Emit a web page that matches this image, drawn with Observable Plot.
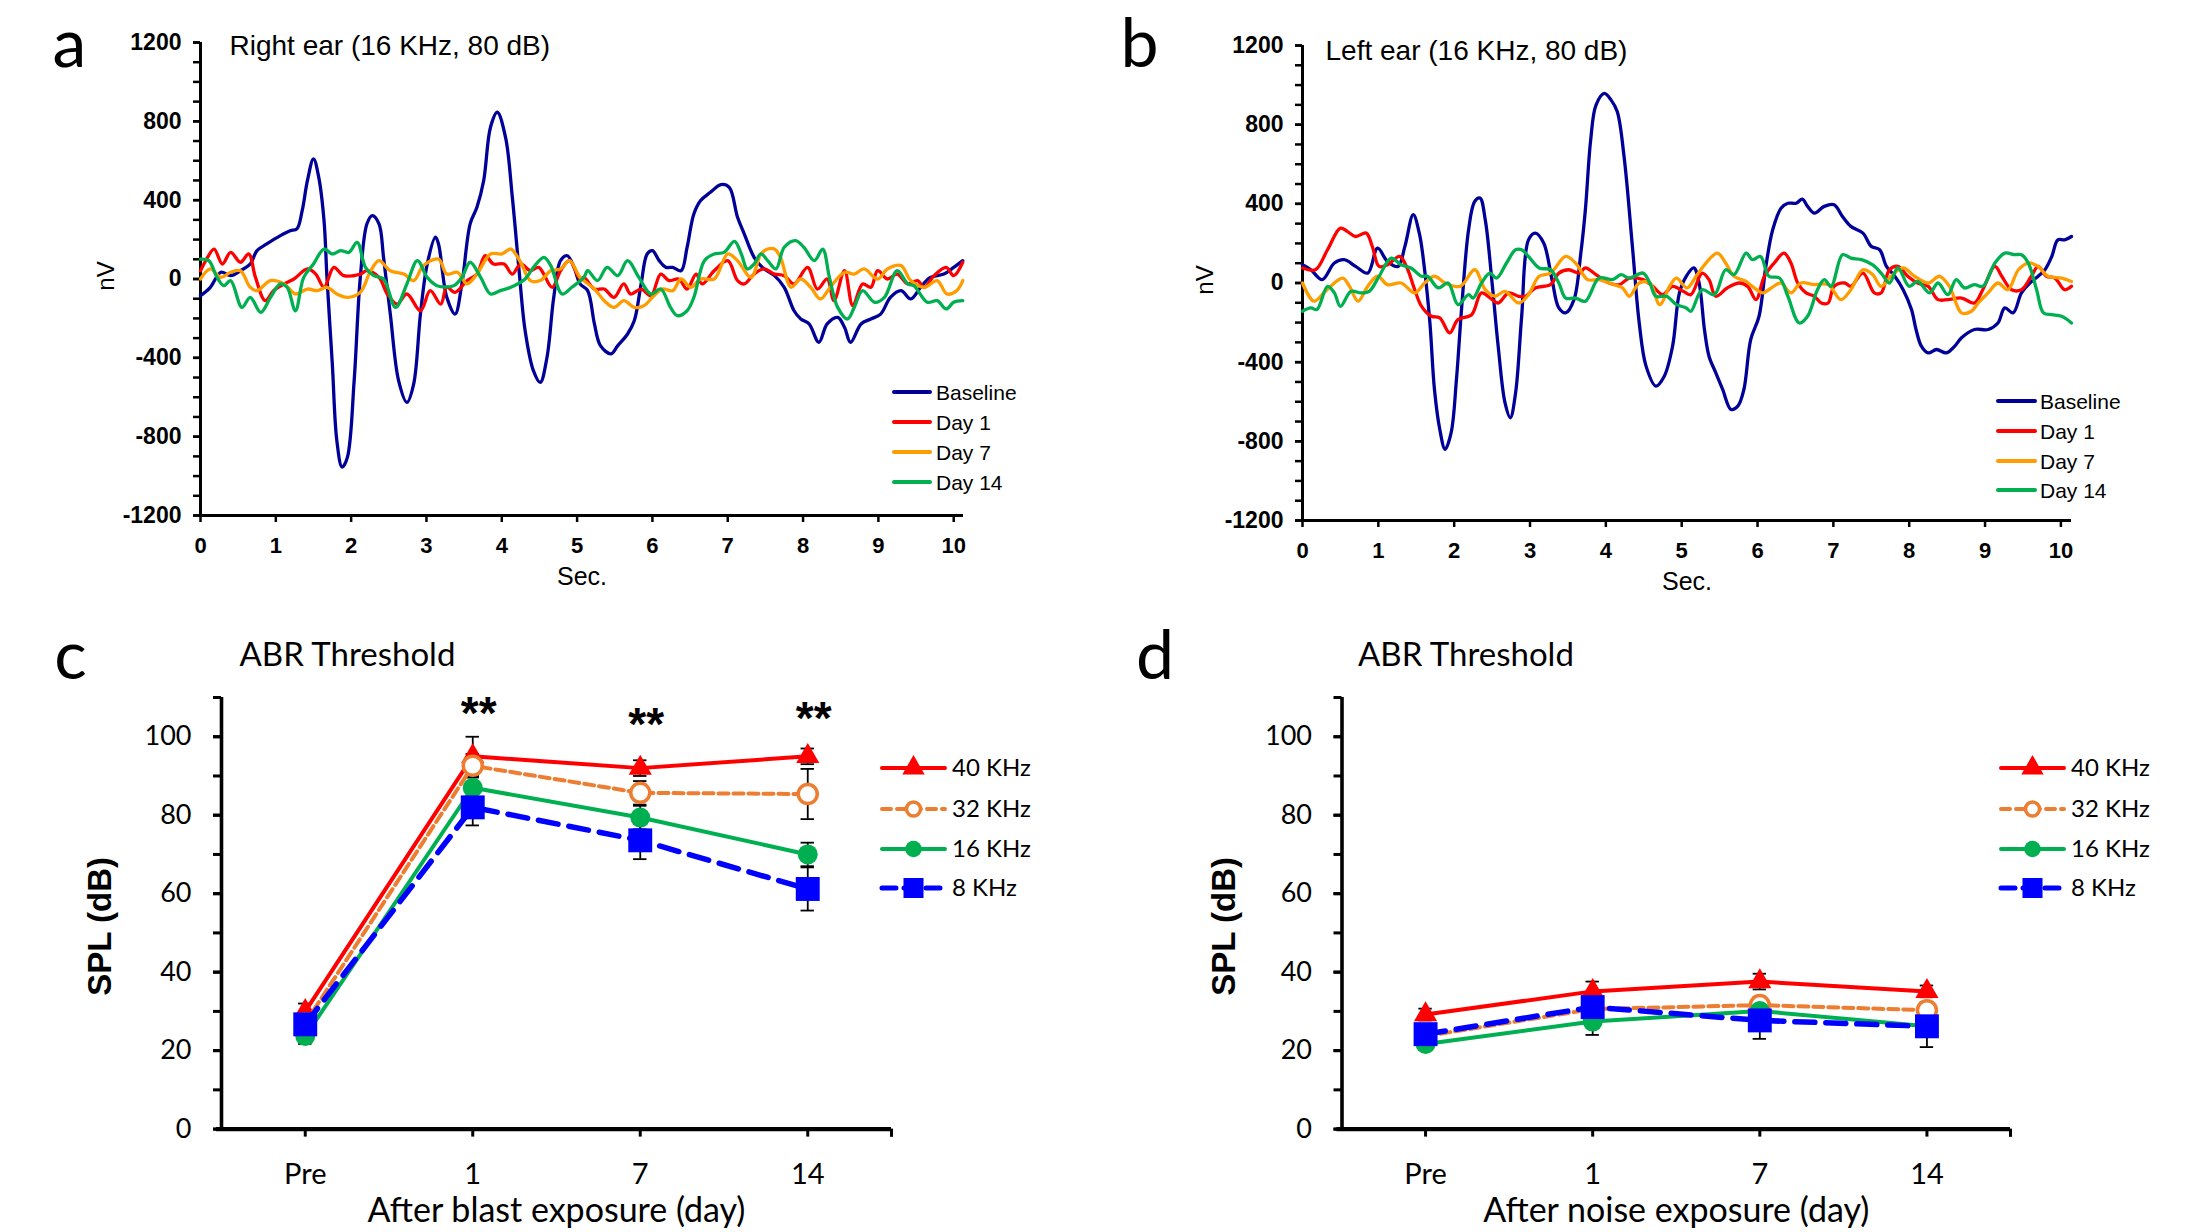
<!DOCTYPE html>
<html>
<head>
<meta charset="utf-8">
<script src="https://cdn.jsdelivr.net/npm/d3@7"></script>
<script src="https://cdn.jsdelivr.net/npm/@observablehq/plot@0.6"></script>
<style>
html, body { margin: 0; padding: 0; background: #fff; }
#root { position: relative; width: 2191px; height: 1232px; overflow: hidden; background: #fff; }
#root > svg, #root > figure { position: absolute; margin: 0; }
</style>
</head>
<body>
<div id="root"></div>
<script>
// ---------------- DATA ----------------
const waveSeries = ["Baseline", "Day 1", "Day 7", "Day 14"];

// Right ear (16 KHz, 80 dB): [sec, nV]
const rightBaseline = [[0,-85],[0.13,-42],[0.27,34],[0.4,17],[0.53,42],[0.66,76],[0.75,144],[0.88,178],[1.06,220],[1.19,245],[1.28,254],[1.35,347],[1.42,500],[1.5,610],[1.57,516],[1.64,296],[1.68,0],[1.75,-431],[1.81,-820],[1.88,-955],[1.95,-905],[2.04,-516],[2.12,0],[2.21,280],[2.28,322],[2.37,280],[2.43,110],[2.52,-178],[2.63,-516],[2.74,-626],[2.83,-533],[2.92,-178],[3.01,76],[3.12,212],[3.16,178],[3.27,-93],[3.38,-178],[3.47,-25],[3.58,280],[3.67,364],[3.76,500],[3.85,770],[3.94,846],[4.05,719],[4.14,415],[4.23,42],[4.31,-262],[4.42,-465],[4.51,-525],[4.6,-398],[4.69,-93],[4.78,93],[4.87,118],[4.96,59],[5.04,-25],[5.14,-59],[5.23,-228],[5.31,-338],[5.45,-380],[5.54,-338],[5.67,-279],[5.76,-211],[5.85,-25],[5.93,127],[6.0,144],[6.09,93],[6.18,59],[6.27,59],[6.38,42],[6.46,160],[6.55,330],[6.64,398],[6.77,440],[6.91,479],[7.02,465],[7.13,313],[7.22,228],[7.35,110],[7.46,59],[7.62,17],[7.75,-42],[7.88,-161],[7.97,-203],[8.08,-228],[8.21,-321],[8.32,-228],[8.46,-195],[8.55,-245],[8.63,-321],[8.77,-228],[8.9,-203],[9.03,-178],[9.16,-93],[9.3,-59],[9.43,-101],[9.56,-42],[9.69,8],[9.87,25],[10.0,59],[10.12,93]];
const rightDay1 = [[0,42],[0.07,93],[0.18,152],[0.29,76],[0.4,135],[0.53,85],[0.64,127],[0.73,8],[0.86,-110],[0.97,-59],[1.11,-25],[1.24,0],[1.42,51],[1.53,25],[1.64,-42],[1.77,59],[1.9,17],[2.12,25],[2.21,42],[2.37,8],[2.48,-76],[2.61,-127],[2.74,-76],[2.92,-161],[3.05,-59],[3.19,-127],[3.27,-42],[3.38,-68],[3.54,-8],[3.67,25],[3.78,118],[3.89,76],[4.03,76],[4.14,25],[4.25,76],[4.38,42],[4.49,59],[4.67,-42],[4.78,42],[4.9,93],[5.04,0],[5.09,8],[5.23,-51],[5.36,-51],[5.49,-93],[5.62,-25],[5.71,-76],[5.85,-51],[5.98,-85],[6.11,25],[6.22,-8],[6.35,0],[6.46,-51],[6.58,25],[6.66,-25],[6.82,42],[7.0,93],[7.13,-8],[7.22,-25],[7.35,25],[7.48,51],[7.62,25],[7.75,17],[7.88,-25],[8.06,59],[8.19,-51],[8.32,0],[8.41,-110],[8.55,42],[8.66,-135],[8.79,-25],[8.9,-42],[8.99,42],[9.12,0],[9.25,25],[9.39,-25],[9.52,-8],[9.61,-42],[9.74,17],[9.9,59],[10.0,17],[10.12,85]];
const rightDay7 = [[0,0],[0.13,51],[0.27,8],[0.4,34],[0.53,42],[0.66,-42],[0.75,-59],[0.93,-8],[1.11,-25],[1.26,-76],[1.42,-51],[1.55,-59],[1.68,-42],[1.81,-76],[1.95,-93],[2.12,-68],[2.26,42],[2.37,93],[2.52,42],[2.7,25],[2.83,-8],[2.96,68],[3.16,101],[3.27,25],[3.41,34],[3.54,-25],[3.67,25],[3.85,127],[4.0,127],[4.12,152],[4.25,85],[4.38,-8],[4.51,-8],[4.65,42],[4.78,51],[4.9,93],[5.04,8],[5.23,-51],[5.36,-110],[5.49,-144],[5.62,-110],[5.76,-144],[5.89,-135],[6.0,-93],[6.13,-51],[6.27,-59],[6.38,0],[6.51,-42],[6.64,0],[6.82,0],[7.0,127],[7.13,93],[7.31,8],[7.44,127],[7.53,152],[7.62,152],[7.7,110],[7.84,-42],[7.97,0],[8.1,-42],[8.23,-101],[8.36,-42],[8.55,34],[8.68,25],[8.81,51],[8.99,0],[9.12,51],[9.3,68],[9.43,-8],[9.61,-42],[9.78,-8],[9.91,-76],[10.04,-59],[10.12,-8]];
const rightDay14 = [[0,101],[0.11,93],[0.22,8],[0.31,-34],[0.4,-8],[0.55,-144],[0.66,-93],[0.8,-169],[0.93,-93],[1.06,-25],[1.15,-42],[1.26,-161],[1.37,8],[1.5,76],[1.64,152],[1.75,127],[1.86,144],[1.97,135],[2.08,186],[2.19,59],[2.3,17],[2.43,0],[2.59,-144],[2.74,-25],[2.88,93],[3.01,8],[3.14,-34],[3.36,-34],[3.47,8],[3.58,85],[3.72,8],[3.85,-76],[3.98,-59],[4.12,-42],[4.31,0],[4.42,59],[4.56,110],[4.65,68],[4.8,-76],[4.93,-42],[5.09,8],[5.14,42],[5.27,-8],[5.4,59],[5.54,17],[5.67,93],[5.82,8],[5.98,-76],[6.11,-51],[6.24,-144],[6.33,-186],[6.46,-161],[6.55,-93],[6.69,93],[6.82,127],[6.95,135],[7.09,191],[7.18,127],[7.26,51],[7.35,76],[7.44,127],[7.53,93],[7.64,51],[7.75,161],[7.9,195],[8.01,161],[8.15,93],[8.26,152],[8.35,8],[8.46,-144],[8.59,-203],[8.68,-144],[8.79,-59],[8.95,-118],[9.08,-93],[9.25,42],[9.39,-25],[9.47,-34],[9.65,-118],[9.78,-110],[9.9,-152],[10.0,-118],[10.12,-110]];

// Left ear (16 KHz, 80 dB): [sec, nV]
const leftBaseline = [[0,92],[0.11,67],[0.26,17],[0.42,101],[0.55,118],[0.7,84],[0.86,50],[0.99,176],[1.12,109],[1.26,84],[1.35,185],[1.46,345],[1.54,252],[1.61,67],[1.68,-202],[1.74,-538],[1.81,-739],[1.88,-840],[1.96,-756],[2.03,-487],[2.1,-118],[2.19,269],[2.27,412],[2.34,429],[2.41,319],[2.5,0],[2.58,-319],[2.67,-605],[2.74,-681],[2.81,-555],[2.89,-168],[2.98,218],[3.07,252],[3.18,202],[3.29,17],[3.38,-126],[3.47,-151],[3.58,-84],[3.67,151],[3.73,370],[3.8,723],[3.87,899],[3.98,958],[4.07,924],[4.15,866],[4.24,639],[4.35,185],[4.44,-202],[4.53,-420],[4.66,-521],[4.77,-471],[4.88,-319],[4.97,-50],[5.06,34],[5.16,76],[5.23,0],[5.3,-235],[5.36,-370],[5.45,-454],[5.54,-538],[5.65,-639],[5.74,-622],[5.82,-538],[5.91,-286],[6.02,-168],[6.11,84],[6.2,269],[6.31,378],[6.4,403],[6.51,403],[6.59,424],[6.66,387],[6.75,353],[6.88,387],[7.01,395],[7.12,336],[7.23,286],[7.39,252],[7.5,185],[7.61,168],[7.7,84],[7.81,34],[7.92,-34],[8.03,-134],[8.09,-235],[8.16,-319],[8.25,-353],[8.36,-336],[8.49,-353],[8.6,-319],[8.69,-277],[8.86,-235],[9.04,-235],[9.17,-202],[9.26,-126],[9.37,-151],[9.48,-50],[9.59,0],[9.7,34],[9.79,67],[9.88,134],[9.96,218],[10.05,218],[10.14,235]];
const leftDay1 = [[0,76],[0.17,67],[0.33,168],[0.5,277],[0.59,261],[0.7,235],[0.84,252],[0.92,185],[1.01,84],[1.12,92],[1.28,134],[1.37,84],[1.48,-34],[1.57,-118],[1.7,-168],[1.81,-176],[1.94,-252],[2.05,-185],[2.23,-160],[2.36,-50],[2.5,-84],[2.58,-101],[2.72,-50],[2.85,-67],[2.94,-67],[3.07,-25],[3.27,-8],[3.38,50],[3.51,67],[3.65,50],[3.73,76],[3.87,42],[4.04,0],[4.18,-8],[4.31,25],[4.49,17],[4.62,-17],[4.75,-59],[4.88,-17],[5.02,-42],[5.12,-59],[5.27,50],[5.36,17],[5.45,-67],[5.6,-25],[5.76,0],[5.87,-17],[5.98,-84],[6.09,34],[6.22,101],[6.35,151],[6.44,101],[6.53,0],[6.64,-50],[6.75,-67],[6.84,-101],[6.93,-101],[7.01,-17],[7.15,0],[7.23,-17],[7.39,50],[7.54,-50],[7.63,-50],[7.74,67],[7.85,84],[7.98,34],[8.11,0],[8.25,-17],[8.38,-84],[8.51,-84],[8.69,-76],[8.86,-101],[8.97,-34],[9.13,84],[9.22,34],[9.35,-34],[9.48,-34],[9.61,34],[9.7,84],[9.81,34],[9.92,25],[10.05,-34],[10.14,-17]];
const leftDay7 = [[0,0],[0.15,-92],[0.28,-50],[0.37,-17],[0.53,25],[0.62,-17],[0.73,-92],[0.86,-17],[0.99,34],[1.12,-8],[1.3,0],[1.48,-50],[1.61,0],[1.74,34],[1.88,0],[2.08,-17],[2.27,67],[2.41,-34],[2.54,-67],[2.67,-42],[2.85,-101],[2.98,-59],[3.12,34],[3.27,50],[3.47,134],[3.6,101],[3.76,17],[3.91,17],[4.04,0],[4.22,-25],[4.31,-67],[4.44,0],[4.58,0],[4.71,-109],[4.84,-17],[4.93,25],[5.07,-25],[5.19,34],[5.32,101],[5.47,151],[5.58,101],[5.69,34],[5.85,8],[5.93,-17],[6.07,-50],[6.18,-25],[6.31,0],[6.44,-50],[6.57,0],[6.75,-8],[6.93,-8],[7.1,-84],[7.23,-34],[7.39,67],[7.52,42],[7.63,-17],[7.76,34],[7.92,76],[8.07,34],[8.25,0],[8.4,34],[8.53,-17],[8.69,-151],[8.82,-143],[8.91,-101],[9.04,-50],[9.17,0],[9.3,-34],[9.44,67],[9.57,101],[9.7,84],[9.83,34],[10.01,25],[10.14,8]];
const leftDay14 = [[0,-143],[0.11,-126],[0.19,-134],[0.33,-17],[0.42,-50],[0.5,-118],[0.64,-42],[0.77,-50],[0.88,-42],[1.01,34],[1.17,126],[1.3,92],[1.43,76],[1.57,34],[1.65,34],[1.79,-25],[1.92,0],[2.05,-109],[2.19,-59],[2.25,-76],[2.36,0],[2.47,50],[2.56,25],[2.69,101],[2.81,168],[2.89,168],[2.98,134],[3.12,76],[3.27,67],[3.38,0],[3.47,-76],[3.6,-76],[3.73,-92],[3.91,25],[4.09,17],[4.2,42],[4.31,25],[4.49,50],[4.58,0],[4.66,-67],[4.8,-67],[4.93,-109],[5.06,-126],[5.12,-143],[5.27,-34],[5.43,-59],[5.58,67],[5.69,42],[5.85,151],[5.93,118],[6.04,134],[6.15,34],[6.29,25],[6.4,-67],[6.55,-202],[6.66,-168],[6.79,-34],[6.88,17],[6.97,-17],[7.12,143],[7.23,126],[7.37,118],[7.52,92],[7.63,50],[7.74,0],[7.85,76],[8.0,-17],[8.11,8],[8.27,-50],[8.38,0],[8.51,-59],[8.62,17],[8.73,-25],[8.86,-8],[8.97,-17],[9.13,101],[9.26,151],[9.39,143],[9.48,143],[9.57,101],[9.68,-34],[9.77,-151],[9.88,-160],[10.01,-168],[10.14,-202]];

const waveYTicks = [-1200, -800, -400, 0, 400, 800, 1200];
const secTicks = [0,1,2,3,4,5,6,7,8,9,10];

// ABR threshold (SPL dB) by day
const days = ["Pre", "1", "7", "14"];
const freqs = ["40 KHz", "32 KHz", "16 KHz", "8 KHz"];
const blast40 = [30, 95, 92, 95];
const blast32 = [27, 92.6, 85.7, 85.4];
const blast16 = [23.7, 87, 79.4, 70];
const blast8  = [26.7, 82, 73.6, 61.2];
const blast40Err = [2, 5, 2, 2];
const blast32Err = [2, 3, 3, 6.4];
const blast16Err = [2, 3, 3, 3];
const blast8Err  = [2, 4.6, 4.8, 5.5];
const noise40 = [29.2, 35.1, 37.6, 35.1];
const noise32 = [23.7, 30.6, 31.6, 30.3];
const noise16 = [21.7, 27.4, 30.1, 26.2];
const noise8  = [24.2, 31.1, 27.7, 26.2];
const noise40Err = [1.5, 2.5, 2, 1.5];
const noise32Err = [1.5, 2, 2, 2];
const noise16Err = [1.5, 3.4, 2, 2];
const noise8Err  = [1.5, 3, 4.7, 5.3];
const starDays = ["1", "7", "14"];
const starY = [108.7, 105.9, 107.5];
const starLabels = ["**", "**", "**"];
const splTicks = [0, 20, 40, 60, 80, 100];

// ---------------- STYLES ----------------
const root = document.getElementById("root");
const ARIAL = "'Liberation Sans', Arial, sans-serif";
const CAL = "Lato, 'Open Sans', sans-serif";
const waveColors = ["#000099", "#ff0000", "#ff9c00", "#00b050"];
const freqStyle = [
  {color: "#ff0000", dash: null, width: 4, symbol: "triangle", r: 8.6, fill: "#ff0000", stroke: "none", sw: 0},
  {color: "#ed7d31", dash: "10,5", width: 4, symbol: "circle", r: 9.5, fill: "white", stroke: "#ed7d31", sw: 3.5},
  {color: "#00b050", dash: null, width: 4, symbol: "circle", r: 10, fill: "#00b050", stroke: "none", sw: 0},
  {color: "#0000ff", dash: "20,11", width: 5.5, symbol: "square", r: 13.5, fill: "#0000ff", stroke: "none", sw: 0}
];

function place(node, left, top) {
  node.style.position = "absolute";
  node.style.left = left + "px";
  node.style.top = top + "px";
  root.appendChild(node);
}

// ---------------- WAVEFORM PANELS ----------------
function wavePanel(o) {
  const rows = [];
  o.series.forEach((pts, k) => pts.forEach(([t, v]) => rows.push({t, v, s: waveSeries[k]})));
  const chart = Plot.plot({
    width: o.width, height: o.height,
    marginLeft: o.mL, marginRight: o.mR, marginTop: o.mT, marginBottom: o.mB,
    style: {fontFamily: ARIAL, background: "transparent", overflow: "visible", color: "black"},
    x: {domain: [0, o.xMax], axis: null},
    y: {domain: [-1200, 1200], axis: null},
    color: {domain: waveSeries, range: waveColors},
    marks: [
      Plot.axisY({ticks: d3.range(-1200, 1201, 100), tickSize: 7, tickFormat: () => "", strokeWidth: 2.5, label: null}),
      Plot.axisY({ticks: waveYTicks, tickSize: 7, tickPadding: 12, tickFormat: d => String(d), fontSize: 23, fontWeight: "bold", strokeWidth: 2.5, label: null}),
      Plot.axisX({ticks: secTicks, tickSize: 7, tickPadding: 15, tickFormat: d => String(d), fontSize: 22, fontWeight: "bold", strokeWidth: 2.5, label: null}),
      Plot.ruleX([0], {stroke: "black", strokeWidth: 3}),
      Plot.ruleY([-1200], {stroke: "black", strokeWidth: 3}),
      Plot.line(rows, {x: "t", y: "v", z: "s", stroke: "s", strokeWidth: 3.3, curve: "catmull-rom"}),
      Plot.text([o.title], {frameAnchor: "top-left", dx: o.titleDx, dy: o.titleDy, textAnchor: "start", lineAnchor: "middle", fontSize: 28, fontFamily: ARIAL}),
      Plot.text([o.letter], {frameAnchor: "top-left", dx: o.letterDx, dy: o.letterDy, textAnchor: "middle", lineAnchor: "middle", fontSize: 68, fontFamily: CAL}),
      Plot.text(["nV"], {frameAnchor: "left", dx: o.nvDx, dy: -3, rotate: -90, textAnchor: "middle", lineAnchor: "middle", fontSize: 24, fontFamily: ARIAL}),
      Plot.text(["Sec."], {frameAnchor: "bottom", dy: 61, textAnchor: "middle", lineAnchor: "middle", fontSize: 25, fontFamily: ARIAL})
    ]
  });
  place(chart, o.left, o.top);
  // legend
  waveSeries.forEach((name, k) => {
    const bar = document.createElement("div");
    bar.style.cssText = `width:${o.lgX1 - o.lgX0}px;height:4px;border-radius:2px;background:${waveColors[k]}`;
    place(bar, o.lgX0, o.lgY[k] - 2);
    const t = document.createElement("div");
    t.textContent = name;
    t.style.cssText = `font:21px ${ARIAL};line-height:1;color:#000;white-space:nowrap;transform:translateY(-50%)`;
    place(t, o.lgTx, o.lgY[k]);
  });
}

wavePanel({
  left: 0, top: 0, width: 1000, height: 600, mL: 200, mR: 37, mT: 42, mB: 85, xMax: 10.13,
  series: [rightBaseline, rightDay1, rightDay7, rightDay14],
  title: "Right ear (16 KHz, 80 dB)", titleDx: 29, titleDy: 3.5,
  letter: "a", letterDx: -131, letterDy: 2.5, nvDx: -94,
  lgX0: 892, lgX1: 932, lgTx: 936, lgY: [392, 422, 452, 482]
});
wavePanel({
  left: 1100, top: 0, width: 1091, height: 600, mL: 202, mR: 120, mT: 45, mB: 80, xMax: 10.14,
  series: [leftBaseline, leftDay1, leftDay7, leftDay14],
  title: "Left ear (16 KHz, 80 dB)", titleDx: 23, titleDy: 6,
  letter: "b", letterDx: -163, letterDy: -0.5, nvDx: -97,
  lgX0: 1996, lgX1: 2037, lgTx: 2040, lgY: [401, 431, 461, 490]
});

// ---------------- ABR THRESHOLD PANELS ----------------
function abrPanel(o) {
  const marks = [
    Plot.axisY({ticks: d3.range(0, 111, 10), tickSize: 8, tickFormat: () => "", strokeWidth: 3, label: null}),
    Plot.axisY({ticks: splTicks, tickSize: 8, tickPadding: 22, tickFormat: d => String(d), fontSize: 27, fontFamily: CAL, strokeWidth: 3, label: null}),
    Plot.axisX({ticks: [0, 1, 2, 3], tickFormat: i => days[i], tickSize: 8, tickPadding: 26, fontSize: 29, fontFamily: CAL, strokeWidth: 3, label: null}),
    Plot.ruleX([3.5], {y1: 0, y2: -2.1, stroke: "black", strokeWidth: 3}),
    Plot.ruleX([-0.5], {y1: 0, y2: 110, stroke: "black", strokeWidth: 3.6}),
    Plot.ruleY([0], {x1: -0.53, x2: 3.5, stroke: "black", strokeWidth: 4.2})
  ];
  const allRows = o.values.map((vals, k) => vals.map((v, i) => ({i, v, e: o.errs[k][i]})));
  // error bars (behind)
  allRows.forEach(rows => {
    marks.push(
      Plot.ruleX(rows, {x: "i", y1: d => d.v - d.e, y2: d => d.v + d.e, stroke: "black", strokeWidth: 1.8}),
      Plot.ruleY(rows, {y: d => d.v + d.e, x1: d => d.i - 0.04, x2: d => d.i + 0.04, stroke: "black", strokeWidth: 1.8}),
      Plot.ruleY(rows, {y: d => d.v - d.e, x1: d => d.i - 0.04, x2: d => d.i + 0.04, stroke: "black", strokeWidth: 1.8})
    );
  });
  allRows.forEach((rows, k) => {
    const st = freqStyle[k];
    marks.push(
      Plot.line(rows, {x: "i", y: "v", stroke: st.color, strokeWidth: st.width, strokeDasharray: st.dash}),
      Plot.dot(rows, {x: "i", y: "v", symbol: st.symbol, r: st.r, fill: st.fill, stroke: st.stroke, strokeWidth: st.sw})
    );
  });
  if (o.stars) {
    const starRows = starDays.map((d, j) => ({i: days.indexOf(d), v: starY[j], s: starLabels[j]}));
    marks.push(Plot.text(starRows, {x: "i", y: "v", text: "s", dx: 6, dy: 12, lineAnchor: "middle", fontSize: 46, fontWeight: "bold", fontFamily: ARIAL}));
  }
  marks.push(
    Plot.text([o.letter], {frameAnchor: "top-left", dx: o.letterDx, dy: -40, textAnchor: "middle", lineAnchor: "middle", fontSize: 68, fontFamily: CAL}),
    Plot.text(["ABR Threshold"], {frameAnchor: "top-left", dx: o.titleDx, dy: -42.5, textAnchor: "start", lineAnchor: "middle", fontSize: 33, fontFamily: CAL}),
    Plot.text(["SPL (dB)"], {frameAnchor: "left", dx: o.splDx, dy: 13, rotate: -90, textAnchor: "middle", lineAnchor: "middle", fontSize: 33, fontWeight: "bold", fontFamily: ARIAL}),
    Plot.text([o.xlabel], {frameAnchor: "bottom", dy: 82, textAnchor: "middle", lineAnchor: "middle", fontSize: 34, fontFamily: CAL})
  );
  const chart = Plot.plot({
    width: o.width, height: 632,
    marginLeft: o.mL, marginRight: o.mR, marginTop: 97, marginBottom: 103.4,
    style: {fontFamily: CAL, background: "transparent", overflow: "visible", color: "black"},
    x: {domain: [-0.5, 3.5], axis: null},
    y: {domain: [0, 110], axis: null},
    marks
  });
  place(chart, o.left, 600);

  // legend
  const svg = d3.create("svg").attr("width", 260).attr("height", 170).style("overflow", "visible");
  freqs.forEach((name, k) => {
    const st = freqStyle[k];
    const y = o.lgY[k] - o.lgTop;
    svg.append("line").attr("x1", 0).attr("x2", o.lgX1 - o.lgX0).attr("y1", y).attr("y2", y)
      .attr("stroke", st.color).attr("stroke-width", st.width === 5.5 ? 5 : 4)
      .attr("stroke-dasharray", st.dash ? (k === 1 ? "9,6" : "14,8") : null).attr("stroke-linecap", "round");
    const lr = k === 3 ? 11.3 : 8.3;
    const sym = st.symbol === "triangle" ? d3.symbolTriangle : st.symbol === "square" ? d3.symbolSquare : d3.symbolCircle;
    svg.append("path").attr("d", d3.symbol(sym, Math.PI * (k === 1 ? 7 : lr) ** 2)())
      .attr("transform", `translate(${(o.lgX1 - o.lgX0) / 2},${y})`)
      .attr("fill", st.fill).attr("stroke", st.stroke === "none" ? null : st.stroke).attr("stroke-width", st.sw);
    svg.append("text").attr("x", o.lgTx - o.lgX0).attr("y", y).attr("dy", "0.35em")
      .attr("font-family", CAL).attr("font-size", 24).text(name);
  });
  place(svg.node(), o.lgX0, o.lgTop);
}

abrPanel({
  left: 0, width: 1100, mL: 221, mR: 209,
  values: [blast40, blast32, blast16, blast8], errs: [blast40Err, blast32Err, blast16Err, blast8Err],
  stars: true, letter: "c", letterDx: -151, titleDx: 18, splDx: -121,
  xlabel: "After blast exposure (day)",
  lgX0: 882, lgX1: 945, lgTx: 952, lgTop: 740, lgY: [768, 809, 849, 888]
});
abrPanel({
  left: 1100, width: 1091, mL: 241.5, mR: 181,
  values: [noise40, noise32, noise16, noise8], errs: [noise40Err, noise32Err, noise16Err, noise8Err],
  stars: false, letter: "d", letterDx: -187, titleDx: 16, splDx: -118,
  xlabel: "After noise exposure (day)",
  lgX0: 2001, lgX1: 2064, lgTx: 2071, lgTop: 740, lgY: [768, 809, 849, 888]
});
</script>
</body>
</html>
